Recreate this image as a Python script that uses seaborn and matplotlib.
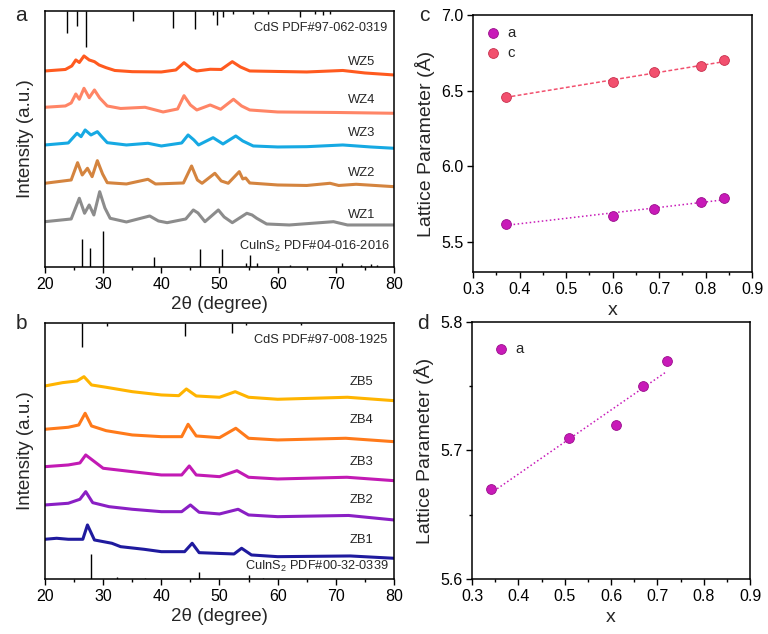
import numpy as np
import matplotlib
matplotlib.use('Agg')
import matplotlib.pyplot as plt
import seaborn as sns
from matplotlib.ticker import MultipleLocator

# ---- panel a : wurtzite series (offset intensity, arbitrary units) ----
wz5_x = [20, 23.5, 24.6, 25.3, 25.9, 26.7, 27.6, 28.5, 29.3, 30.5, 32, 35, 40, 42.5, 43.9, 45.2, 46.1, 48.4, 50.3, 52.2, 53.6, 55.2, 60, 65, 71.2, 75, 80]
wz5_y = [196, 197.5, 201, 207, 204.5, 211, 207, 205.3, 202, 199.3, 196.5, 195.3, 195, 197, 204.3, 198, 196, 197.7, 197.5, 205.3, 200, 196, 195.5, 195, 196.5, 194, 192]
wz4_x = [20, 23.5, 24.5, 25.3, 25.9, 26.7, 27.6, 28.5, 29.4, 30.7, 33, 37.2, 40.3, 42.8, 43.9, 45, 46.1, 48.4, 50.2, 52.4, 53.8, 55.2, 60, 70, 80]
wz4_y = [159.7, 161, 164, 173, 167.7, 178.7, 169.3, 177, 169, 161, 158.5, 159.7, 155, 158, 171.3, 162, 157, 162, 157.7, 167.7, 161, 157, 155, 154.5, 153.7]
wz3_x = [20, 24, 25.5, 26.2, 26.9, 27.9, 29.0, 29.8, 30.7, 34, 37.7, 40, 43.5, 44.6, 45.6, 46.4, 48.9, 50.6, 52.8, 54, 55.8, 60, 65, 71.2, 76, 80]
wz3_y = [122, 124, 133.7, 130.3, 137, 132, 135.3, 130, 124.3, 122, 123.7, 121, 124, 132, 127, 122, 129.3, 123, 131, 126, 121, 120, 120.3, 122, 120, 118.7]
wz2_x = [20, 24.5, 25.6, 26.4, 27.3, 28.1, 29.0, 29.9, 30.7, 34, 37.7, 39, 43.8, 45.2, 46.2, 47, 49.2, 50.3, 51.5, 53.4, 54.0, 54.5, 55.2, 60, 65, 69, 70.5, 73.5, 80]
wz2_y = [83.7, 87, 104.3, 92, 98.7, 90.3, 106.3, 93, 84.3, 83, 87.7, 83, 84, 101, 87, 83.7, 93.7, 86, 83.7, 95.3, 88, 89, 84, 82, 81.5, 83.7, 81.5, 82.7, 80.3]
wz1_x = [20, 24.5, 25.9, 26.8, 27.6, 28.4, 29.4, 30.3, 31.2, 34, 38.0, 39.5, 41, 44.2, 45.5, 46.3, 47.5, 49.8, 50.8, 52.2, 54.7, 55.6, 56.4, 58.1, 62, 69.6, 72, 80]
wz1_y = [45.3, 48, 68.7, 53.7, 62, 52, 75.3, 59, 48.7, 45, 51, 46, 44.3, 48, 57, 54, 45.3, 57, 50, 44.3, 53.7, 52, 48.7, 43, 42, 45.3, 42, 42]
wz_names = ['WZ5', 'WZ4', 'WZ3', 'WZ2', 'WZ1']
wz_colors = ['#ff5a1f', '#ff8566', '#16a9e3', '#d4843f', '#8c8c8c']
wz_label_y = [205, 167, 134, 94, 52]

# reference cards, panel a
cds_wz_pos = [23.8, 25.5, 27.1, 35.2, 42.0, 45.8, 48.9, 49.6, 50.6, 52.3, 55.8, 58.3, 63.8, 66.4, 67.8, 69.0]
cds_wz_len = [22, 15, 36, 10, 17, 18, 4, 14, 6, 3, 3, 3, 6, 3, 4, 3]
cis_wz_pos = [26.4, 27.7, 29.9, 38.7, 46.6, 50.4, 54.5, 55.2, 56.4, 62.2, 71.1, 74.4, 76.0, 77.0]
cis_wz_h = [28, 19, 36, 10, 18, 18, 4, 12, 4, 2, 4, 2, 3, 2]

# ---- panel b : zinc blende series ----
zb5_x = [20, 23, 25.5, 26.7, 28, 30.5, 35, 40, 43, 44.3, 46, 50, 52.7, 55, 60, 72, 80]
zb5_y = [193, 196.3, 198, 202.3, 194, 191.7, 187.3, 184, 183.3, 190, 183, 181.7, 187.3, 181.7, 179.7, 181.7, 178.3]
zb4_x = [20, 24, 25.8, 26.9, 28, 30.5, 35, 40, 43.5, 44.6, 46, 50, 52.8, 55, 60, 71.7, 80]
zb4_y = [149.7, 151.7, 154, 165.7, 153, 148.3, 144, 142.3, 142.3, 154.7, 143, 141.3, 150.7, 140.7, 139, 140.7, 137.3]
zb3_x = [20, 24, 26, 27.0, 30, 35, 40, 43.5, 44.8, 46, 50, 53.0, 55, 60, 71.9, 80]
zb3_y = [112.3, 114, 116, 124, 110.7, 107.3, 104, 104, 113, 104, 102.3, 108.3, 101.7, 100, 101.7, 98.3]
zb2_x = [20, 24, 26, 27.0, 28.2, 31, 35, 40, 43.5, 45.0, 46.5, 50, 53.2, 55, 60, 72.2, 80]
zb2_y = [74, 75.7, 79.7, 87.3, 76.3, 72.3, 69.7, 67.3, 67.3, 74, 66.7, 65, 69.7, 64, 62.3, 63.5, 59]
zb1_x = [20, 22, 24, 26.5, 27.3, 28.5, 31.5, 33, 37, 40, 44, 45.3, 46.5, 52.5, 53.8, 55.5, 60, 72.5, 80]
zb1_y = [39.7, 40.7, 39.7, 39.7, 54, 39, 35.7, 32.3, 29.7, 27.3, 27.3, 35.7, 26.3, 25, 30.7, 24, 22.3, 23, 20.7]
zb_names = ['ZB5', 'ZB4', 'ZB3', 'ZB2', 'ZB1']
zb_colors = ['#ffb400', '#ff7a1a', '#c21ab4', '#8a1fc4', '#1f1a9e']
zb_label_y = [197, 159, 117, 79, 39]

cds_zb_pos = [26.4, 30.7, 44.0, 52.1, 54.6, 64.0]
cds_zb_len = [24, 3, 13, 10, 2, 2]
cis_zb_pos = [27.9, 32.3, 37.2, 46.5, 55.1, 57.5]
cis_zb_h = [25, 2, 1, 7, 4, 1]

# ---- panels c, d : lattice parameters ----
x_c = [0.37, 0.60, 0.69, 0.79, 0.84]
a_c = [5.62, 5.67, 5.72, 5.76, 5.79]
c_c = [6.46, 6.56, 6.62, 6.66, 6.70]
x_d = [0.34, 0.51, 0.61, 0.67, 0.72]
a_d = [5.67, 5.71, 5.72, 5.75, 5.77]

col_a = '#c81ab8'
col_c = '#f2506e'

sns.set_style('ticks')
plt.rcParams['font.family'] = ['Liberation Sans', 'DejaVu Sans']
plt.rcParams['mathtext.fontset'] = 'custom'
plt.rcParams['mathtext.rm'] = 'Liberation Sans'
plt.rcParams['mathtext.it'] = 'Liberation Sans:italic'
plt.rcParams['axes.linewidth'] = 1.1
plt.rcParams['axes.edgecolor'] = 'black'
plt.rcParams['xtick.color'] = 'black'
plt.rcParams['ytick.color'] = 'black'

fig = plt.figure(figsize=(7.68, 6.34), dpi=100)
ax_a = fig.add_axes([0.0586, 0.5789, 0.4544, 0.4038])
ax_b = fig.add_axes([0.0586, 0.0868, 0.4544, 0.4038])
ax_c = fig.add_axes([0.6159, 0.5710, 0.3633, 0.4053])
ax_d = fig.add_axes([0.6146, 0.0868, 0.3620, 0.4053])


def draw_xrd(ax, xs, ys, colors, names, label_y, top_pos, top_len, bot_pos, bot_h, top_txt, bot_txt):
    for x, y, c in zip(xs, ys, colors):
        sns.lineplot(x=x, y=y, color=c, lw=2.2, sort=False, ax=ax)
    for n, ly in zip(names, label_y):
        ax.text(74.4, ly, n, fontsize=9.4, ha='center', va='center')
    ax.vlines(top_pos, 256 - np.array(top_len), 256, color='black', lw=1)
    ax.vlines(bot_pos, 0, bot_h, color='black', lw=1)
    ax.text(56.0, 238.5, top_txt, fontsize=9.2, va='center')
    ax.text(bot_txt[1], bot_txt[2], bot_txt[0], fontsize=9.2, va='center')
    ax.set_xlim(20, 80)
    ax.set_ylim(0, 256)
    ax.set_yticks([])
    ax.xaxis.set_major_locator(MultipleLocator(10))
    ax.xaxis.set_minor_locator(MultipleLocator(5))
    ax.tick_params(axis='x', which='major', length=4, width=1, labelsize=11.5, pad=3)
    ax.tick_params(axis='x', which='minor', length=2.5, width=1)
    ax.set_xlabel('2θ (degree)', fontsize=13.5, labelpad=3)
    ax.set_ylabel('Intensity (a.u.)', fontsize=13.5, labelpad=8)


draw_xrd(ax_a, [wz5_x, wz4_x, wz3_x, wz2_x, wz1_x], [wz5_y, wz4_y, wz3_y, wz2_y, wz1_y],
         wz_colors, wz_names, wz_label_y, cds_wz_pos, cds_wz_len, cis_wz_pos, cis_wz_h,
         'CdS PDF#97-062-0319', ('CuInS$_2$ PDF#04-016-2016', 53.4, 20.5))
draw_xrd(ax_b, [zb5_x, zb4_x, zb3_x, zb2_x, zb1_x], [zb5_y, zb4_y, zb3_y, zb2_y, zb1_y],
         zb_colors, zb_names, zb_label_y, cds_zb_pos, cds_zb_len, cis_zb_pos, cis_zb_h,
         'CdS PDF#97-008-1925', ('CuInS$_2$ PDF#00-32-0339', 54.4, 12.5))

# panel c
sns.regplot(x=x_c, y=a_c, scatter=False, ci=None, color=col_a, ax=ax_c,
            line_kws={'ls': ':', 'lw': 1.1})
sns.regplot(x=x_c, y=c_c, scatter=False, ci=None, color=col_c, ax=ax_c,
            line_kws={'ls': (0, (2.5, 1.5)), 'lw': 1.1})
sns.scatterplot(x=x_c, y=a_c, color=col_a, s=50, edgecolor='#9a0e8c', linewidth=0.6, label='a', ax=ax_c, zorder=3)
sns.scatterplot(x=x_c, y=c_c, color=col_c, s=50, edgecolor='#c8304e', linewidth=0.6, label='c', ax=ax_c, zorder=3)
ax_c.set_xlim(0.3, 0.9)
ax_c.set_ylim(5.3, 7.0)
ax_c.yaxis.set_major_locator(MultipleLocator(0.5))

# panel d
sns.regplot(x=x_d, y=a_d, scatter=False, ci=None, color=col_a, ax=ax_d,
            line_kws={'ls': ':', 'lw': 1.1})
sns.scatterplot(x=x_d, y=a_d, color=col_a, s=50, edgecolor='#9a0e8c', linewidth=0.6, label='a', ax=ax_d, zorder=3)
ax_d.set_xlim(0.3, 0.9)
ax_d.set_ylim(5.6, 5.8)
ax_d.yaxis.set_major_locator(MultipleLocator(0.1))
ax_d.yaxis.set_minor_locator(MultipleLocator(0.05))

for ax, pad in ((ax_c, 0.3), (ax_d, 0.9)):
    ax.xaxis.set_major_locator(MultipleLocator(0.1))
    ax.xaxis.set_minor_locator(MultipleLocator(0.05))
    ax.tick_params(which='major', length=4, width=1, labelsize=11.5, pad=3)
    ax.tick_params(which='minor', length=2.5, width=1)
    ax.set_xlabel('x', fontsize=14, labelpad=4)
    ax.set_ylabel('Lattice Parameter (Å)', fontsize=14, labelpad=4)
    ax.legend(loc='upper left', frameon=False, fontsize=10.8, handletextpad=0.4,
              handlelength=1.2, borderaxespad=pad, labelspacing=0.45)

for lab, pos in zip(['a', 'b', 'c', 'd'], [(0.027, 0.976), (0.028, 0.49), (0.553, 0.976), (0.551, 0.49)]):
    fig.text(pos[0], pos[1], lab, fontsize=15, ha='center', va='center')

plt.savefig('out.png', dpi=100)
